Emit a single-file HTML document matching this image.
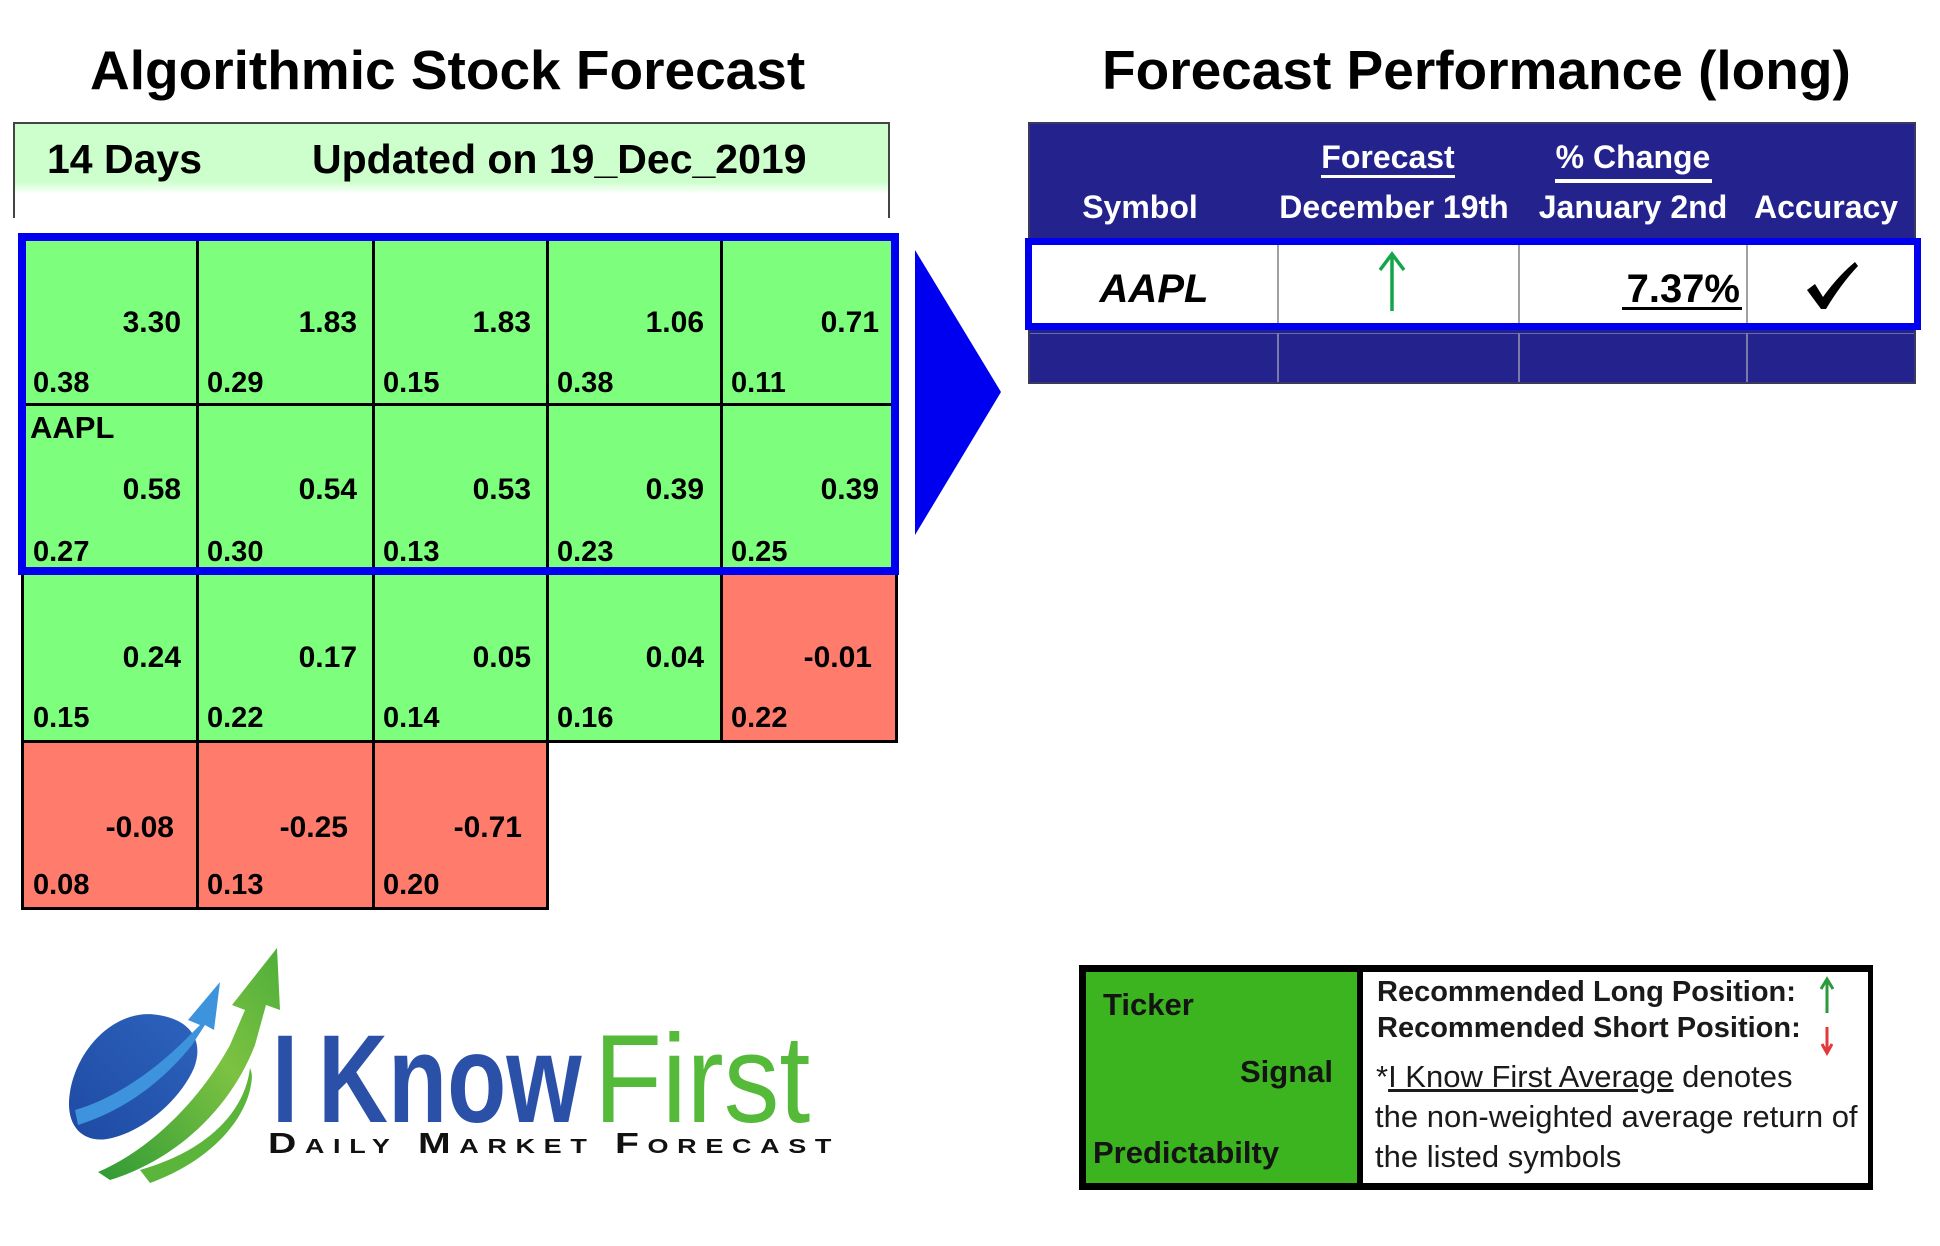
<!DOCTYPE html>
<html>
<head>
<meta charset="utf-8">
<style>
  html,body{margin:0;padding:0;background:#fff;}
  #root{position:relative;width:1940px;height:1246px;overflow:hidden;background:#fff;font-family:"Liberation Sans",Arial,sans-serif;color:#000;}
  .a{position:absolute;white-space:nowrap;}
  .b{font-weight:bold;}
  .big{font-size:30px;line-height:30px;font-weight:bold;text-align:right;}
  .sm{font-size:29px;line-height:29px;font-weight:bold;}
  .ln{position:absolute;background:#000;}
  .hd{font-size:32px;line-height:32px;font-weight:bold;color:#fff;text-align:center;}
</style>
</head>
<body>
<div id="root">

  <!-- Titles -->
  <div class="a b" style="left:90px;top:43px;font-size:55px;line-height:55px;">Algorithmic Stock Forecast</div>
  <div class="a b" style="left:1102px;top:43px;font-size:55px;line-height:55px;">Forecast Performance (long)</div>

  <!-- Left header box -->
  <div class="a" style="left:15px;top:124px;width:873px;height:70px;background:linear-gradient(to bottom,#ccffcc 0%,#ccffcc 82%,#ffffff 100%);"></div>
  <div class="ln" style="left:13px;top:122px;width:877px;height:2px;background:#444;"></div>
  <div class="ln" style="left:13px;top:122px;width:2px;height:96px;background:#444;"></div>
  <div class="ln" style="left:888px;top:122px;width:2px;height:96px;background:#444;"></div>
  <div class="a b" style="left:47px;top:139px;font-size:41px;line-height:41px;">14 Days</div>
  <div class="a b" style="left:312px;top:139px;font-size:41px;line-height:41px;">Updated on 19_Dec_2019</div>

  <!-- Grid backgrounds -->
  <div class="a" style="left:22px;top:236px;width:874px;height:336px;background:#7dff7d;"></div>
  <div class="a" style="left:22px;top:572px;width:699px;height:169px;background:#7dff7d;"></div>
  <div class="a" style="left:721px;top:572px;width:175px;height:169px;background:#ff7b6c;"></div>
  <div class="a" style="left:22px;top:741px;width:525px;height:167px;background:#ff7b6c;"></div>

  <!-- Grid lines -->
  <div class="ln" style="left:196px;top:236px;width:3px;height:672px;"></div>
  <div class="ln" style="left:372px;top:236px;width:3px;height:672px;"></div>
  <div class="ln" style="left:546px;top:236px;width:3px;height:672px;"></div>
  <div class="ln" style="left:720px;top:236px;width:3px;height:505px;"></div>
  <div class="ln" style="left:22px;top:403px;width:874px;height:3px;"></div>
  <div class="ln" style="left:22px;top:740px;width:876px;height:3px;"></div>
  <div class="ln" style="left:22px;top:907px;width:527px;height:3px;"></div>
  <div class="ln" style="left:21px;top:570px;width:3px;height:340px;"></div>
  <div class="ln" style="left:895px;top:570px;width:3px;height:173px;"></div>

  <!-- Blue highlight border -->
  <div class="a" style="left:18px;top:233px;width:881px;height:342px;box-sizing:border-box;border:8px solid #0000f0;"></div>

  <!-- Row 1 -->
  <div class="a big" style="left:22px;width:159px;top:308px;">3.30</div>
  <div class="a big" style="left:197px;width:160px;top:308px;">1.83</div>
  <div class="a big" style="left:373px;width:158px;top:308px;">1.83</div>
  <div class="a big" style="left:547px;width:157px;top:308px;">1.06</div>
  <div class="a big" style="left:721px;width:158px;top:308px;">0.71</div>
  <div class="a sm" style="left:33px;top:369px;">0.38</div>
  <div class="a sm" style="left:207px;top:369px;">0.29</div>
  <div class="a sm" style="left:383px;top:369px;">0.15</div>
  <div class="a sm" style="left:557px;top:369px;">0.38</div>
  <div class="a sm" style="left:731px;top:369px;">0.11</div>

  <!-- Row 2 -->
  <div class="a b" style="left:30px;top:412px;font-size:31px;line-height:31px;">AAPL</div>
  <div class="a big" style="left:22px;width:159px;top:475px;">0.58</div>
  <div class="a big" style="left:197px;width:160px;top:475px;">0.54</div>
  <div class="a big" style="left:373px;width:158px;top:475px;">0.53</div>
  <div class="a big" style="left:547px;width:157px;top:475px;">0.39</div>
  <div class="a big" style="left:721px;width:158px;top:475px;">0.39</div>
  <div class="a sm" style="left:33px;top:538px;">0.27</div>
  <div class="a sm" style="left:207px;top:538px;">0.30</div>
  <div class="a sm" style="left:383px;top:538px;">0.13</div>
  <div class="a sm" style="left:557px;top:538px;">0.23</div>
  <div class="a sm" style="left:731px;top:538px;">0.25</div>

  <!-- Row 3 -->
  <div class="a big" style="left:22px;width:159px;top:643px;">0.24</div>
  <div class="a big" style="left:197px;width:160px;top:643px;">0.17</div>
  <div class="a big" style="left:373px;width:158px;top:643px;">0.05</div>
  <div class="a big" style="left:547px;width:157px;top:643px;">0.04</div>
  <div class="a big" style="left:721px;width:151px;top:643px;">-0.01</div>
  <div class="a sm" style="left:33px;top:704px;">0.15</div>
  <div class="a sm" style="left:207px;top:704px;">0.22</div>
  <div class="a sm" style="left:383px;top:704px;">0.14</div>
  <div class="a sm" style="left:557px;top:704px;">0.16</div>
  <div class="a sm" style="left:731px;top:704px;">0.22</div>

  <!-- Row 4 -->
  <div class="a big" style="left:22px;width:152px;top:813px;">-0.08</div>
  <div class="a big" style="left:197px;width:151px;top:813px;">-0.25</div>
  <div class="a big" style="left:373px;width:149px;top:813px;">-0.71</div>
  <div class="a sm" style="left:33px;top:871px;">0.08</div>
  <div class="a sm" style="left:207px;top:871px;">0.13</div>
  <div class="a sm" style="left:383px;top:871px;">0.20</div>

  <!-- Blue triangle -->
  <svg class="a" style="left:0;top:0;" width="1940" height="1246" viewBox="0 0 1940 1246">
    <polygon points="915,250 1001,392 915,535" fill="#0000f0"/>
  </svg>

  <!-- Right table -->
  <div class="a" style="left:1028px;top:122px;width:888px;height:262px;background:#24228c;box-sizing:border-box;border:2px solid #3a3a60;"></div>
  <div class="a" style="left:1030px;top:333px;width:884px;height:1px;background:#6a6ab0;"></div>
  <div class="a" style="left:1277px;top:333px;width:2px;height:49px;background:#7a7aaa;"></div>
  <div class="a" style="left:1518px;top:333px;width:2px;height:49px;background:#7a7aaa;"></div>
  <div class="a" style="left:1746px;top:333px;width:2px;height:49px;background:#7a7aaa;"></div>

  <div class="a" style="left:1030px;top:242px;width:886px;height:86px;background:#fff;"></div>
  <div class="a" style="left:1277px;top:242px;width:2px;height:86px;background:#a0a0a0;"></div>
  <div class="a" style="left:1518px;top:242px;width:2px;height:86px;background:#a0a0a0;"></div>
  <div class="a" style="left:1746px;top:242px;width:2px;height:86px;background:#a0a0a0;"></div>
  <div class="a" style="left:1025px;top:238px;width:896px;height:92px;box-sizing:border-box;border:7px solid #0000ee;"></div>

  <div class="a hd" style="left:1040px;width:200px;top:191px;">Symbol</div>
  <div class="a hd" style="left:1274px;width:240px;top:191px;">December 19th</div>
  <div class="a hd" style="left:1523px;width:220px;top:191px;">January 2nd</div>
  <div class="a hd" style="left:1754px;width:140px;top:191px;">Accuracy</div>
  <div class="a hd" style="left:1308px;width:160px;top:141px;">Forecast</div>
  <div class="a" style="left:1321px;top:175px;width:134px;height:3px;background:#fff;"></div>
  <div class="a hd" style="left:1543px;width:180px;top:141px;">% Change</div>
  <div class="a" style="left:1555px;top:179px;width:157px;height:4px;background:#fff;"></div>

  <div class="a b" style="left:1054px;width:200px;top:269px;font-size:40px;line-height:40px;font-style:italic;text-align:center;">AAPL</div>
  <div class="a b" style="left:1540px;width:200px;top:269px;font-size:40px;line-height:40px;text-align:right;">7.37%</div>
  <div class="a" style="left:1622px;top:307px;width:120px;height:3px;background:#000;"></div>

  <svg class="a" style="left:0;top:0;" width="1940" height="1246" viewBox="0 0 1940 1246">
    <!-- table up arrow -->
    <line x1="1392" y1="311" x2="1392" y2="255" stroke="#12a54a" stroke-width="3.5"/>
    <polyline points="1380,270 1392,254 1404,270" fill="none" stroke="#12a54a" stroke-width="3.5"/>
    <!-- checkmark -->
    <path d="M1807 290 L1815 284 L1823 297 Q1838 276 1855 262 L1858 266 Q1841 284 1826 309 L1821 309 Z" fill="#000"/>
  </svg>

  <!-- Legend -->
  <div class="a" style="left:1079px;top:965px;width:794px;height:225px;background:#000;"></div>
  <div class="a" style="left:1086px;top:972px;width:271px;height:211px;background:#3cb41f;"></div>
  <div class="a" style="left:1363px;top:972px;width:505px;height:211px;background:#fff;"></div>
  <div class="a b" style="left:1103px;top:989px;font-size:31px;line-height:31px;color:#141414;">Ticker</div>
  <div class="a b" style="left:1133px;width:200px;text-align:right;top:1056px;font-size:31px;line-height:31px;color:#141414;">Signal</div>
  <div class="a b" style="left:1093px;top:1137px;font-size:31px;line-height:31px;color:#141414;">Predictabilty</div>
  <div class="a b" style="left:1377px;top:978px;font-size:29px;line-height:29px;color:#1a1a1a;">Recommended Long Position:</div>
  <div class="a b" style="left:1377px;top:1014px;font-size:29px;line-height:29px;color:#1a1a1a;">Recommended Short Position:</div>
  <div class="a" style="left:1376px;top:1061px;font-size:31px;line-height:31px;color:#1a1a1a;">*<span style="text-decoration:underline;">I Know First Average</span> denotes</div>
  <div class="a" style="left:1375px;top:1101px;font-size:31px;line-height:31px;color:#1a1a1a;">the non-weighted average return of</div>
  <div class="a" style="left:1375px;top:1141px;font-size:31px;line-height:31px;color:#1a1a1a;">the listed symbols</div>

  <!-- legend arrows (drawn above legend) -->
  <svg class="a" style="left:0;top:0;" width="1940" height="1246" viewBox="0 0 1940 1246">
    <line x1="1827" y1="1013" x2="1827" y2="981" stroke="#2a9a3a" stroke-width="3"/>
    <polyline points="1821,989 1827,979 1833,989" fill="none" stroke="#2a9a3a" stroke-width="3"/>
    <line x1="1827" y1="1027" x2="1827" y2="1051" stroke="#e03a3a" stroke-width="3"/>
    <polyline points="1822,1044 1827,1053 1832,1044" fill="none" stroke="#e03a3a" stroke-width="3"/>
  </svg>

  <!-- Logo graphic -->
  <svg class="a" style="left:0;top:0;" width="1940" height="1246" viewBox="0 0 1940 1246">
    <defs>
      <linearGradient id="gg" x1="0" y1="1" x2="1" y2="0">
        <stop offset="0" stop-color="#2f9a35"/>
        <stop offset="0.6" stop-color="#7cc242"/>
        <stop offset="1" stop-color="#4fae3a"/>
      </linearGradient>
      <linearGradient id="bb" x1="0" y1="1" x2="1" y2="0">
        <stop offset="0" stop-color="#1e4aa3"/>
        <stop offset="1" stop-color="#2d63bd"/>
      </linearGradient>
    </defs>
    <!-- blue globe -->
    <path d="M158 1015 C118 1008 78 1045 70 1092 C64 1128 85 1145 112 1138 C145 1130 180 1100 194 1068 C204 1042 192 1020 158 1015 Z" fill="url(#bb)"/>
    <!-- light blue band + arrow -->
    <path d="M75 1110 C110 1100 150 1075 185 1040 L200 1025 L188 1020 L220 982 L214 1030 L205 1025 L192 1045 C160 1085 120 1112 78 1125 Z" fill="#3d93dc"/>
    <!-- green arrow -->
    <path d="M98 1172 C150 1150 200 1100 230 1045 L245 1010 L232 1005 L277 948 L280 1010 L266 1005 L255 1045 C230 1110 175 1160 110 1180 Z" fill="url(#gg)"/>
    <!-- lower green swoosh -->
    <path d="M150 1183 C200 1165 240 1130 250 1090 C252 1080 253 1075 250 1068 C245 1110 210 1150 140 1170 Z" fill="#5bb53a"/>
  </svg>

  <!-- Logo text -->
  <div class="a b" style="left:272px;top:1017px;font-size:125px;line-height:125px;color:#2a50a8;transform:scaleX(0.75);transform-origin:0 0;">I</div>
  <div class="a b" style="left:318px;top:1017px;font-size:125px;line-height:125px;color:#2a50a8;transform:scaleX(0.775);transform-origin:0 0;">Know</div>
  <div class="a" style="left:594px;top:1017px;font-size:125px;line-height:125px;color:#55b93a;transform:scaleX(0.89);transform-origin:0 0;">First</div>
  <div class="a b" style="left:268px;top:1130px;font-size:29px;line-height:29px;font-variant:small-caps;letter-spacing:6.4px;color:#111;transform:scaleX(1.35);transform-origin:0 0;">Daily Market Forecast</div>

</div>
</body>
</html>
